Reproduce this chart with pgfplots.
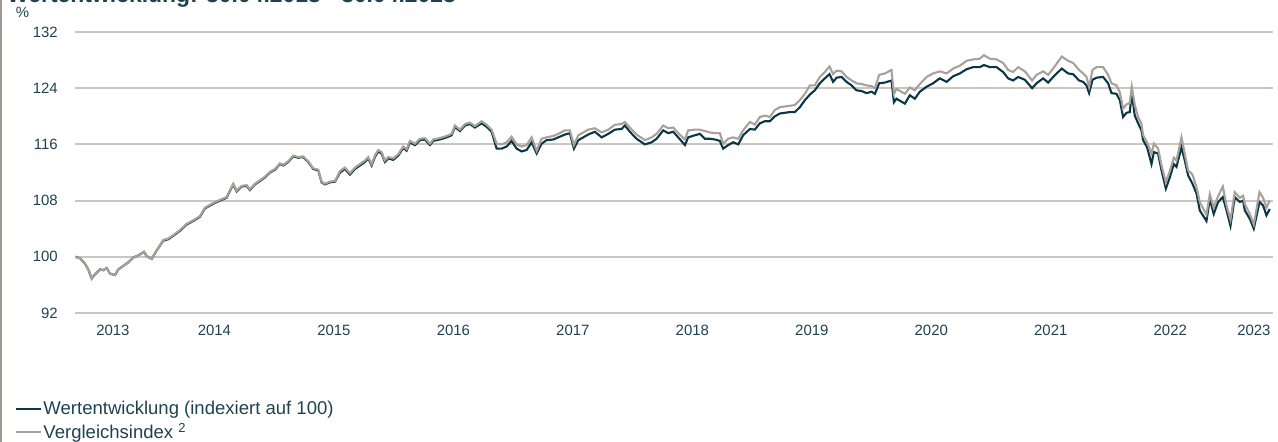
\documentclass[border=0pt]{standalone}
\usepackage{pgfplots}
\pgfplotsset{compat=1.18}
\usepackage{pgfplotstable}
\usepackage{fontspec}
\setmainfont{Liberation Sans}
\definecolor{textc}{HTML}{1F4250}
\definecolor{wc}{HTML}{0A3746}
\definecolor{vc}{HTML}{A8A19B}
\definecolor{gridc}{HTML}{CCC6BF}
\definecolor{borderc}{HTML}{A09A95}

\pgfplotstableread{
year W V
2013.333 100.0 100.0
2013.375 99.8 99.8
2013.417 99.0 99.0
2013.444 98.2 98.2
2013.473 96.9 96.9
2013.500 97.5 97.5
2013.542 98.2 98.2
2013.570 98.1 98.1
2013.598 98.4 98.4
2013.626 97.6 97.6
2013.668 97.4 97.4
2013.695 98.2 98.2
2013.737 98.7 98.7
2013.779 99.2 99.2
2013.821 99.9 99.9
2013.863 100.2 100.2
2013.910 100.7 100.7
2013.933 100.1 100.1
2013.975 99.7 99.7
2014.017 100.9 100.9
2014.072 102.3 102.4
2014.114 102.5 102.6
2014.156 103.0 103.1
2014.212 103.7 103.8
2014.268 104.6 104.7
2014.323 105.1 105.2
2014.379 105.7 105.8
2014.421 106.9 107.0
2014.463 107.3 107.4
2014.519 107.8 107.9
2014.574 108.2 108.3
2014.602 108.4 108.5
2014.630 109.4 109.5
2014.658 110.3 110.4
2014.686 109.3 109.4
2014.728 110.0 110.1
2014.770 110.1 110.2
2014.797 109.5 109.6
2014.839 110.3 110.4
2014.881 110.8 110.9
2014.923 111.3 111.4
2014.965 112.0 112.1
2015.007 112.4 112.5
2015.048 113.2 113.3
2015.076 113.0 113.1
2015.118 113.5 113.6
2015.160 114.3 114.4
2015.202 114.1 114.2
2015.243 114.2 114.3
2015.285 113.5 113.6
2015.327 112.5 112.6
2015.369 112.3 112.4
2015.397 110.6 110.7
2015.425 110.3 110.4
2015.467 110.6 110.7
2015.509 110.7 110.8
2015.551 112.0 112.2
2015.592 112.5 112.7
2015.634 111.7 111.9
2015.676 112.5 112.7
2015.718 113.0 113.2
2015.760 113.5 113.7
2015.787 114.0 114.2
2015.816 113.0 113.2
2015.843 114.2 114.4
2015.871 115.0 115.2
2015.899 114.7 114.9
2015.927 113.5 113.7
2015.955 114.0 114.2
2015.997 113.8 114.0
2016.038 114.4 114.6
2016.080 115.5 115.7
2016.109 115.1 115.3
2016.136 116.3 116.5
2016.178 115.9 116.1
2016.220 116.6 116.8
2016.262 116.7 116.9
2016.304 115.9 116.1
2016.331 116.5 116.7
2016.387 116.7 116.9
2016.443 117.0 117.2
2016.485 117.3 117.5
2016.513 118.5 118.7
2016.555 117.9 118.1
2016.597 118.7 118.9
2016.638 118.9 119.1
2016.680 118.4 118.6
2016.736 119.0 119.3
2016.778 118.5 118.8
2016.820 117.8 118.1
2016.862 115.4 116.1
2016.904 115.4 116.0
2016.946 115.7 116.3
2016.987 116.5 117.1
2017.029 115.4 116.0
2017.071 115.0 115.7
2017.113 115.2 115.9
2017.155 116.3 117.0
2017.197 114.7 115.1
2017.238 116.1 116.8
2017.280 116.6 117.0
2017.336 116.7 117.2
2017.377 117.0 117.5
2017.433 117.4 118.0
2017.475 117.6 118.0
2017.509 115.4 115.9
2017.545 116.6 117.3
2017.587 117.0 117.7
2017.628 117.4 118.1
2017.684 117.8 118.3
2017.741 117.0 117.7
2017.796 117.5 118.1
2017.852 118.1 118.8
2017.908 118.2 118.9
2017.936 118.7 119.2
2017.977 117.8 118.4
2018.033 116.8 117.4
2018.103 116.0 116.6
2018.159 116.3 117.0
2018.201 116.8 117.5
2018.256 118.0 118.7
2018.298 117.6 118.3
2018.340 117.8 118.4
2018.382 117.0 117.6
2018.438 115.9 116.7
2018.465 117.0 118.0
2018.521 117.3 118.1
2018.563 117.5 118.1
2018.605 116.8 117.9
2018.647 116.8 117.7
2018.689 116.7 117.6
2018.730 116.5 117.6
2018.758 115.4 116.1
2018.800 115.9 116.8
2018.842 116.3 117.0
2018.884 116.0 116.8
2018.925 117.3 118.0
2018.982 118.2 119.2
2019.023 118.1 118.8
2019.065 119.0 119.9
2019.107 119.3 120.1
2019.149 119.3 119.9
2019.191 120.0 120.9
2019.233 120.4 121.3
2019.274 120.5 121.4
2019.316 120.6 121.5
2019.358 120.6 121.6
2019.400 121.3 122.3
2019.442 122.3 123.2
2019.484 123.1 124.4
2019.525 123.7 124.4
2019.567 124.7 125.6
2019.609 125.4 126.3
2019.648 126.0 127.1
2019.678 124.9 126.0
2019.707 125.5 126.5
2019.749 125.6 126.4
2019.791 124.9 125.6
2019.833 124.4 125.1
2019.874 123.7 124.7
2019.916 123.6 124.6
2019.958 123.3 124.4
2020.000 123.5 124.3
2020.028 123.2 124.0
2020.064 124.7 125.9
2020.111 124.8 126.1
2020.167 125.1 126.6
2020.187 122.0 123.2
2020.209 122.5 123.9
2020.279 121.8 123.2
2020.320 123.0 124.1
2020.362 122.5 123.7
2020.404 123.5 124.6
2020.460 124.2 125.6
2020.515 124.7 126.1
2020.571 125.4 126.4
2020.628 124.9 126.1
2020.683 125.7 126.8
2020.739 126.1 127.2
2020.795 126.7 127.9
2020.850 127.0 128.1
2020.906 127.0 128.2
2020.940 127.3 128.7
2020.990 127.0 128.2
2021.046 127.0 128.1
2021.101 126.3 127.6
2021.143 125.4 126.6
2021.185 125.1 126.3
2021.227 125.6 127.0
2021.283 125.2 126.4
2021.344 124.0 125.1
2021.381 124.7 125.9
2021.436 125.4 126.4
2021.478 124.8 125.9
2021.520 125.6 126.8
2021.592 126.8 128.5
2021.645 126.1 127.9
2021.687 126.0 127.6
2021.737 125.1 126.6
2021.771 124.9 126.1
2021.799 124.4 125.6
2021.821 123.3 124.2
2021.849 125.2 126.6
2021.883 125.5 127.0
2021.938 125.6 127.0
2021.980 124.7 125.9
2022.008 123.3 124.7
2022.050 123.2 124.4
2022.078 122.3 123.4
2022.105 119.9 121.1
2022.134 120.5 121.7
2022.161 120.6 121.9
2022.178 123.3 124.2
2022.203 120.1 121.6
2022.231 119.0 119.9
2022.259 118.0 118.9
2022.273 116.6 117.3
2022.306 115.6 116.3
2022.343 113.2 114.7
2022.363 114.9 116.1
2022.398 114.7 115.4
2022.427 112.3 113.0
2022.463 109.7 110.6
2022.496 111.3 112.2
2022.530 113.2 114.1
2022.552 112.8 113.7
2022.594 115.6 117.0
2022.622 113.7 114.6
2022.649 111.6 112.3
2022.686 110.4 111.7
2022.720 109.0 109.9
2022.747 106.6 107.8
2022.803 105.1 106.0
2022.831 108.2 108.9
2022.864 106.1 107.0
2022.900 107.8 108.6
2022.940 108.5 110.0
2022.971 106.6 107.3
2023.004 104.4 105.3
2023.040 108.5 109.2
2023.082 107.8 108.4
2023.110 108.0 108.7
2023.124 106.6 107.5
2023.166 105.4 106.1
2023.199 104.0 104.6
2023.247 107.8 109.2
2023.277 107.3 108.4
2023.305 105.9 107.0
2023.333 106.8 108.0
}\datatable

\begin{document}
\begin{tikzpicture}
\useasboundingbox (0,0) rectangle (1278bp,442bp);
\draw[borderc, line width=2bp] (1bp,0bp) -- (1bp,442bp);
\node[anchor=base west, inner sep=0pt, text=textc, font=\bfseries\fontsize{23}{26}\selectfont] at (7bp,439bp) {Wertentwicklung: 30.04.2013 - 30.04.2023};
\node[text=textc, inner sep=0pt, font=\fontsize{15}{17}\selectfont] at (22.5bp,430bp) {\%};
\begin{axis}[
  at={(75bp,129bp)}, anchor=south west,
  width=1198bp, height=281bp, scale only axis,
  xmin=2013.333, xmax=2023.36, ymin=92, ymax=132,
  ytick={92,100,...,132},
  xtick={2013.65,2014.5,2015.5,2016.5,2017.5,2018.5,2019.5,2020.5,2021.5,2022.5,2023.2},
  xticklabels={2013,2014,2015,2016,2017,2018,2019,2020,2021,2022,2023},
  ymajorgrids, grid style={gridc, line width=2bp},
  axis line style={draw=none}, major tick length=0pt,
  /pgf/number format/assume math mode=true,
  tick label style={font=\fontsize{15}{17}\selectfont, text=textc},
  yticklabel style={anchor=east, inner sep=0pt, xshift=-17bp},
  xticklabel style={anchor=north, inner sep=0pt, yshift=-12bp},
  legend style={at={(axis description cs:-0.0501,-0.31)}, anchor=north west,
    draw=none, fill=none, font=\fontsize{18.6}{22}\selectfont, text=textc,
    row sep=4.5bp, inner sep=0pt, nodes={inner sep=1.2bp}},
  legend cell align=left,
  legend image code/.code={\draw[#1] (0bp,0bp) -- (25bp,0bp);},
]
\addplot[wc, line width=2.1bp] table[x=year, y=W] {\datatable};
\addlegendentry{Wertentwicklung (indexiert auf 100)}
\addplot[vc, line width=2.1bp] table[x=year, y=V] {\datatable};
\addlegendentry{Vergleichsindex \textsuperscript{2}}
\end{axis}
\end{tikzpicture}
\end{document}
